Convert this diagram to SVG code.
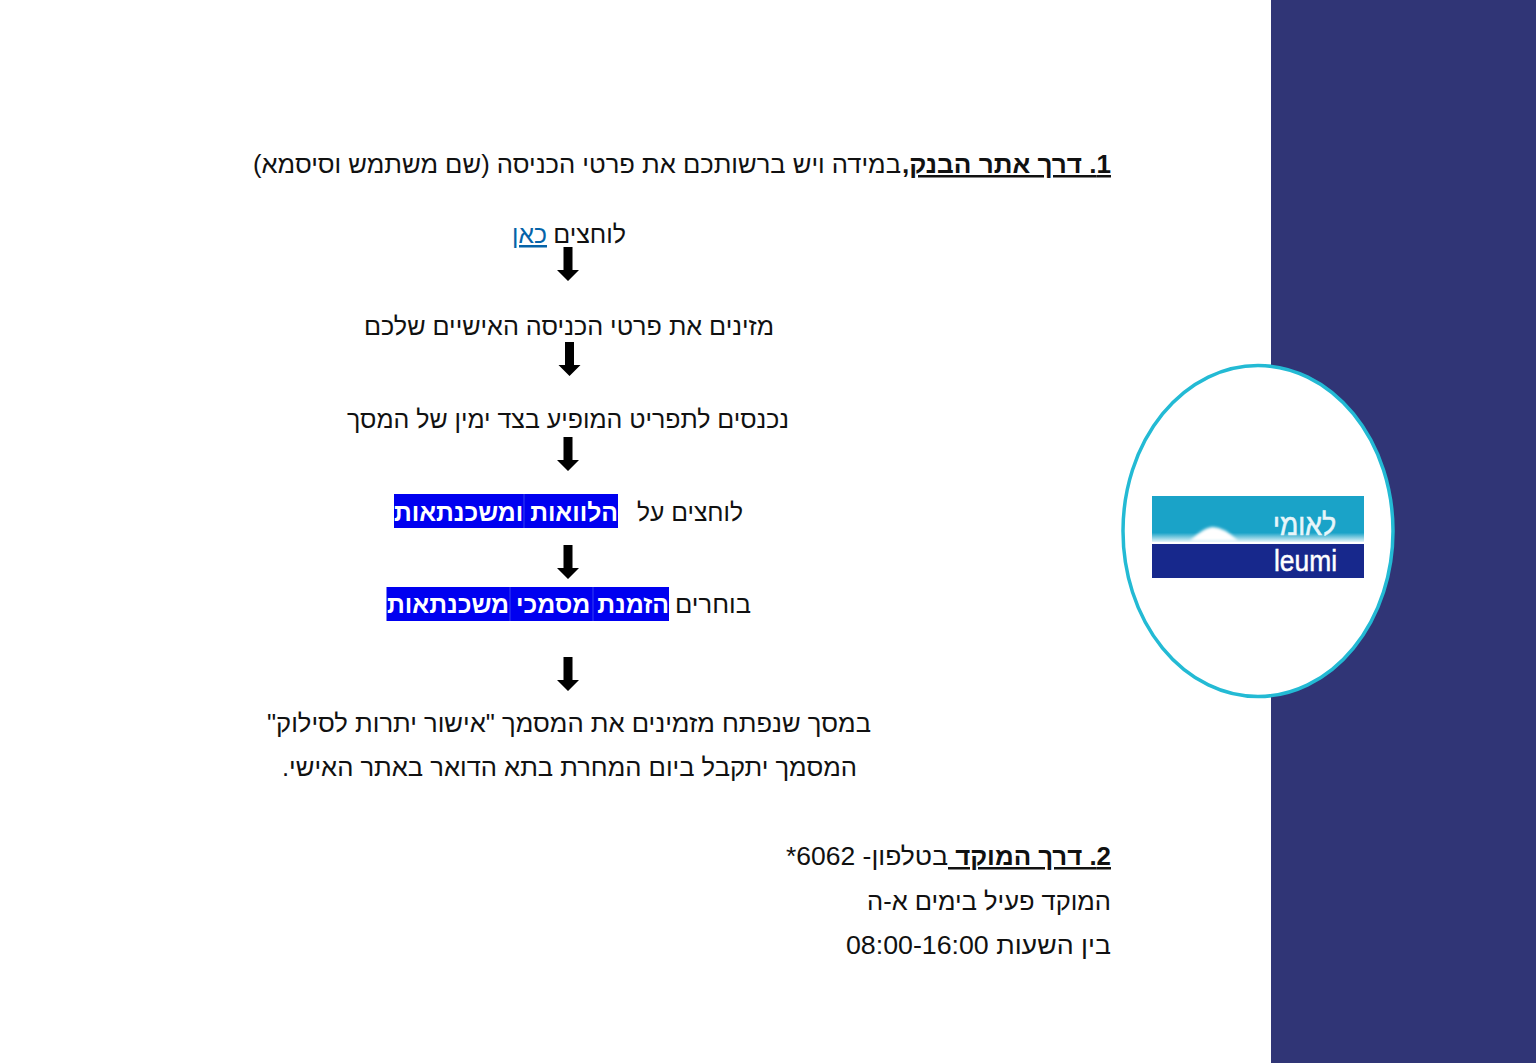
<svg xmlns="http://www.w3.org/2000/svg" width="1536" height="1063" viewBox="0 0 1536 1063">
<style>
text{font-family:"Liberation Sans",Arial,sans-serif;font-size:25px;fill:#111;direction:rtl;text-anchor:start}
.b{font-weight:bold}
.u{text-decoration:underline;text-decoration-thickness:2px;text-decoration-skip-ink:none}
.w{font-weight:bold;fill:#fff}
.hl{fill:#0000f0}
.sep{stroke:#3440f0;stroke-width:1}
.l{fill:#0563a8;text-decoration:underline;text-decoration-thickness:2px;text-decoration-skip-ink:none}
</style>
<defs>
<path id="arrow" d="M-4.500 0H4.500V23H11L0 34L-11 23H-4.500Z" fill="#000"/>
<linearGradient id="fade" x1="0" y1="0" x2="0" y2="1"><stop offset="0.8" stop-color="#1aa3c8"/><stop offset="1" stop-color="#e6f5f9"/></linearGradient>
<filter id="blur" x="-30%" y="-30%" width="160%" height="160%"><feGaussianBlur stdDeviation="1.800"/></filter>
</defs>
<rect width="1536" height="1063" fill="#fff"/>
<rect id="sidebar" x="1271" y="0" width="265" height="1063" fill="#303576"/>
<g id="logo">
<ellipse cx="1258" cy="531" rx="135" ry="165.500" fill="#fff" stroke="#23bad4" stroke-width="3.500"/>
<rect x="1152" y="496" width="212" height="46" fill="url(#fade)"/>
<path d="M1190 541Q1204 527 1213 527Q1224 527 1238 541Z" fill="#fff" filter="url(#blur)"/>
<rect x="1152" y="544" width="212" height="34" fill="#17288c"/>
<text x="1336" y="535" textLength="63" lengthAdjust="spacingAndGlyphs" style="font-size:30px;fill:#e8f6fa;stroke:#e8f6fa;stroke-width:.6">לאומי</text>
<text x="1274" y="571" textLength="63" lengthAdjust="spacingAndGlyphs" style="font-size:30px;fill:#fff;stroke:#fff;stroke-width:.5;direction:ltr">leumi</text>
</g>
<g id="connectors">
<use href="#arrow" x="568" y="247"/>
<use href="#arrow" x="569.500" y="342"/>
<use href="#arrow" x="568" y="437"/>
<use href="#arrow" x="568" y="545"/>
<use href="#arrow" x="568" y="657"/>
</g>
<g id="n1"><text class="b u" x="1111" y="173" textLength="209" lengthAdjust="spacingAndGlyphs">1. דרך אתר הבנק,</text><text x="901" y="173" textLength="648" lengthAdjust="spacingAndGlyphs">במידה ויש ברשותכם את פרטי הכניסה (שם משתמש וסיסמא)</text></g>
<g id="n2"><text x="626" y="243">לוחצים</text><text class="l" x="547" y="243" textLength="35" lengthAdjust="spacingAndGlyphs">כאן</text></g>
<g id="n3"><text x="774" y="335" textLength="410" lengthAdjust="spacingAndGlyphs">מזינים את פרטי הכניסה האישיים שלכם</text></g>
<g id="n4"><text x="789" y="428" textLength="442" lengthAdjust="spacingAndGlyphs">נכנסים לתפריט המופיע בצד ימין של המסך</text></g>
<g id="n5"><rect class="hl" x="394" y="494" width="224" height="34"/><path class="sep" d="M524 494V528"/><text x="743" y="521" textLength="106" lengthAdjust="spacingAndGlyphs">לוחצים על</text><text class="w" x="618" y="521" textLength="224" lengthAdjust="spacingAndGlyphs">הלוואות ומשכנתאות</text></g>
<g id="n6"><rect class="hl" x="386.500" y="587" width="282.500" height="34"/><path class="sep" d="M510 587V621M593 587V621"/><text x="751" y="613" textLength="76" lengthAdjust="spacingAndGlyphs">בוחרים</text><text class="w" x="669" y="613" textLength="282" lengthAdjust="spacingAndGlyphs">הזמנת מסמכי משכנתאות</text></g>
<g id="n7"><text x="871" y="732" textLength="604" lengthAdjust="spacingAndGlyphs">במסך שנפתח מזמינים את המסמך "אישור יתרות לסילוק"</text><text x="857" y="776" textLength="575" lengthAdjust="spacingAndGlyphs">המסמך יתקבל ביום המחרת בתא הדואר באתר האישי.</text></g>
<g id="n8"><text class="b u" x="1111" y="865" textLength="163" lengthAdjust="spacingAndGlyphs">2. דרך המוקד&#160;</text><text x="948" y="865" textLength="162" lengthAdjust="spacingAndGlyphs">בטלפון- 6062*</text><text x="1111" y="910" textLength="244" lengthAdjust="spacingAndGlyphs">המוקד פעיל בימים א-ה</text><text x="1111" y="954" textLength="265" lengthAdjust="spacingAndGlyphs">בין השעות 08:00-16:00</text></g>
</svg>
